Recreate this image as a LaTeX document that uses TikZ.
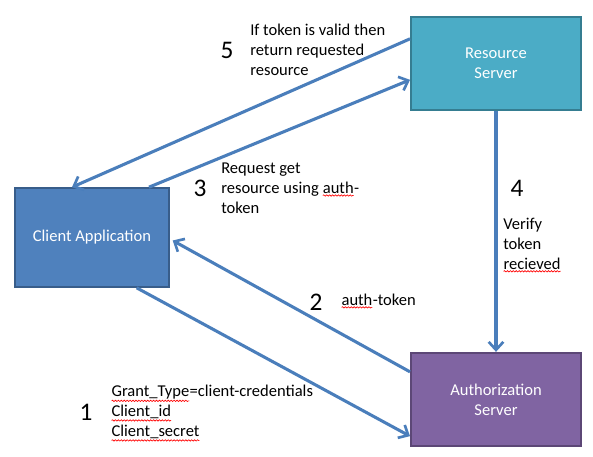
\documentclass[tikz,border=0pt]{standalone}
\usepackage{fontspec}
\setmainfont{Carlito}
\usetikzlibrary{arrows.meta,decorations.pathmorphing}
\definecolor{rsfill}{HTML}{4BACC6}
\definecolor{rsdraw}{HTML}{357D91}
\definecolor{asfill}{HTML}{8064A2}
\definecolor{asdraw}{HTML}{5C4776}
\definecolor{cafill}{HTML}{4F81BD}
\definecolor{cadraw}{HTML}{385D8A}
\definecolor{arrowc}{HTML}{4A7EBB}
\newcommand\sqg[1]{\tikz[baseline=(w.base),x=1cm,y=1cm]{\node[inner sep=0pt,outer sep=0pt](w){#1};\draw[red,line width=0.5pt,decorate,decoration={snake,amplitude=0.5pt,segment length=2.2pt}] ([yshift=-1.6pt]w.south west)--([yshift=-1.6pt]w.south east);}}
\begin{document}
\begin{tikzpicture}[x=0.75pt,y=-0.75pt,
  box/.style={draw, line width=1.5pt, inner sep=0pt, text=white, align=center,
    font=\fontsize{12.4}{15}\selectfont},
  conn/.style={draw=arrowc, line width=2.3pt, -{Straight Barb[length=6pt,width=11pt,line width=2pt]}},
  lbl/.style={anchor=west, inner sep=0pt, align=left, font=\fontsize{12.4}{15}\selectfont},
  num/.style={inner sep=0pt, font=\fontsize{19}{22}\selectfont}]
\useasboundingbox (0,0) rectangle (593,457);
\node[box, fill=rsfill, draw=rsdraw, minimum width=127.5pt, minimum height=70pt] (rs) at (496,63.5) {Resource\\Server};
\node[box, fill=asfill, draw=asdraw, minimum width=127.5pt, minimum height=70pt] (as) at (496,399.5) {Authorization\\Server};
\node[box, fill=cafill, draw=cadraw, minimum width=115.5pt, minimum height=74pt] (ca) at (92,237.5) {Client Application};
% connectors
\draw[conn] ([yshift=-17.25pt]rs.north west) -- ([xshift=43.5pt]ca.north west);
\draw[conn] ([xshift=-15.75pt]ca.north east) -- ([yshift=-48pt]rs.north west);
\draw[conn] (rs.south) -- (as.north);
\draw[conn] ([yshift=-15pt]as.north west) -- ([xshift=2pt,yshift=-2.25pt]ca.east);
\draw[conn] ([xshift=92pt]ca.south west) -- ([yshift=8.25pt]as.south west);
% labels
\node[num] (n5) at (227,50) {5};
\node[lbl] (t5) at (250,50) {If token is valid then\\return requested\\resource};
\node[num] (n3) at (200,188) {3};
\node[lbl] (t3) at (221,188) {Request get\\resource using \sqg{auth}-\\token};
\node[num] (n4) at (517,188) {4};
\node[lbl] (t4) at (503,245) {Verify\\token\\\sqg{recieved}};
\node[num] (n2) at (316,302) {2};
\node[lbl] (t2) at (341,301) {\sqg{auth}-token};
\node[num] (n1) at (86,412) {1};
\node[lbl] (t1) at (111,413) {\sqg{Grant\_Type}=client-credentials\\\sqg{Client\_id}\\\sqg{Client\_secret}};
\end{tikzpicture}
\end{document}
